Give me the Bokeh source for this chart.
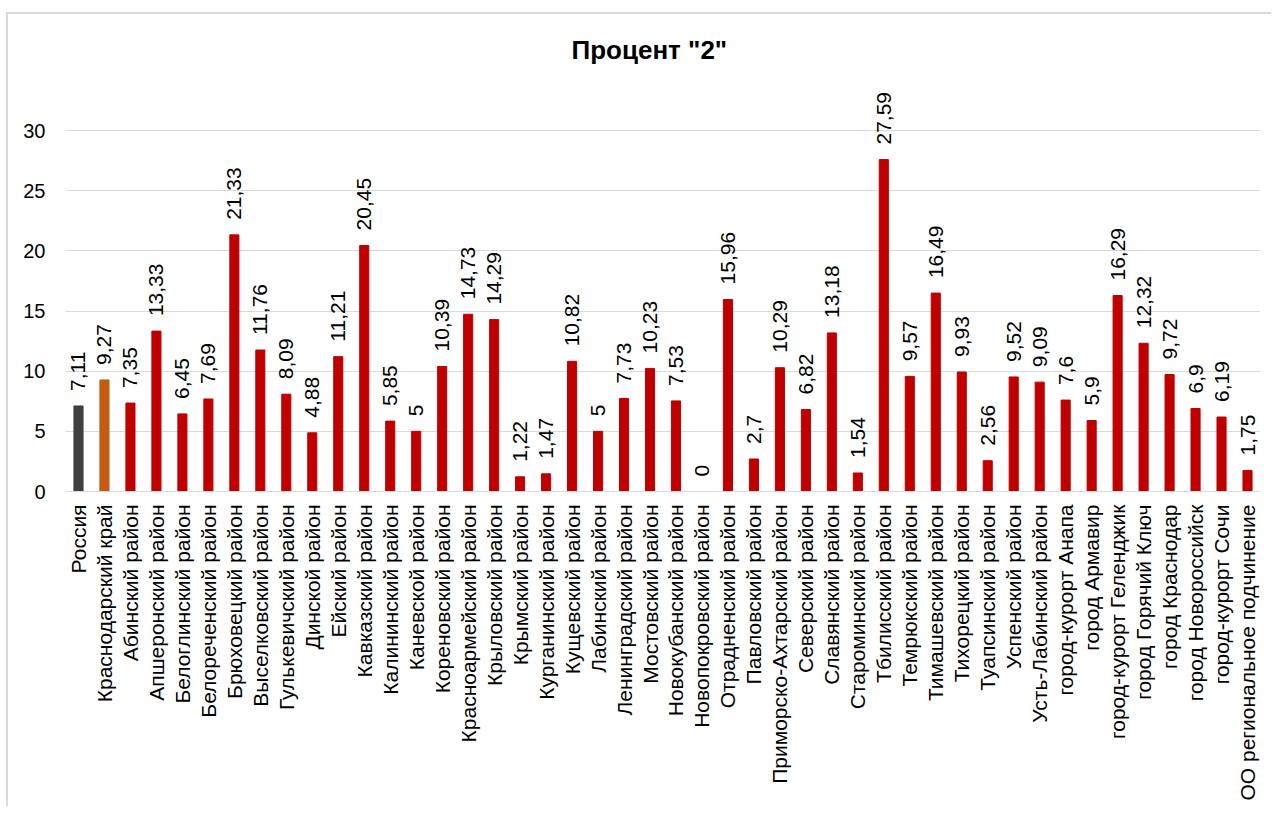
import math
from bokeh.plotting import figure
from bokeh.models import ColumnDataSource, FixedTicker, FactorRange, Range1d
from bokeh.core.properties import value
from bokeh.embed import file_html
from bokeh.resources import INLINE

categories = [
    "Россия", "Краснодарский край", "Абинский район", "Апшеронский район",
    "Белоглинский район", "Белореченский район", "Брюховецкий район",
    "Выселковский район", "Гулькевичский район", "Динской район", "Ейский район",
    "Кавказский район", "Калининский район", "Каневской район", "Кореновский район",
    "Красноармейский район", "Крыловский район", "Крымский район",
    "Курганинский район", "Кущевский район", "Лабинский район",
    "Ленинградский район", "Мостовский район", "Новокубанский район",
    "Новопокровский район", "Отрадненский район", "Павловский район",
    "Приморско-Ахтарский район", "Северский район", "Славянский район",
    "Староминский район", "Тбилисский район", "Темрюкский район",
    "Тимашевский район", "Тихорецкий район", "Туапсинский район",
    "Успенский район", "Усть-Лабинский район", "город-курорт Анапа",
    "город Армавир", "город-курорт Геленджик", "город Горячий Ключ",
    "город Краснодар", "город Новороссийск", "город-курорт Сочи",
    "ОО региональное подчинение",
]
values = [
    7.11, 9.27, 7.35, 13.33, 6.45, 7.69, 21.33, 11.76, 8.09, 4.88, 11.21,
    20.45, 5.85, 5, 10.39, 14.73, 14.29, 1.22, 1.47, 10.82, 5, 7.73, 10.23,
    7.53, 0, 15.96, 2.7, 10.29, 6.82, 13.18, 1.54, 27.59, 9.57, 16.49, 9.93,
    2.56, 9.52, 9.09, 7.6, 5.9, 16.29, 12.32, 9.72, 6.9, 6.19, 1.75,
]
y_ticks = [0, 5, 10, 15, 20, 25, 30]
title_text = 'Процент "2"'

russia_color = "#404040"
region_color = "#C55A11"
district_color = "#C00000"
colors = [russia_color, region_color] + [district_color] * (len(categories) - 2)


def fmt(v):
    s = ("%.2f" % v).rstrip("0").rstrip(".")
    return s.replace(".", ",")


labels = [fmt(v) for v in values]

source = ColumnDataSource(dict(cat=categories, val=values, color=colors, label=labels))

FONT = "Liberation Sans"

p = figure(
    x_range=FactorRange(*categories, range_padding=0),
    y_range=Range1d(0, 34.16),
    width=1271, height=806,
    output_backend="svg", toolbar_location=None,
    min_border_left=65, min_border_right=11,
    min_border_top=80, min_border_bottom=315,
)
p.outline_line_color = None
p.background_fill_color = None
p.border_fill_color = None
p.styles = {
    "background": (
        "linear-gradient(#D9D9D9, #D9D9D9) 6px 12px / 2px 100% no-repeat, "
        "linear-gradient(#D9D9D9, #D9D9D9) 6px 12px / 100% 2px no-repeat, "
        "#FFFFFF"
    )
}

p.vbar(x="cat", top="val", width=0.35, color="color", source=source)

p.text(
    x="cat", y="val", text="label", source=source,
    angle=math.pi / 2, text_align="left", text_baseline="middle",
    y_offset=-15, text_font=value(FONT), text_font_size="21px",
    text_color="#000000",
)

p.title.text = title_text
p.title.align = "left"
p.title.text_font = FONT
p.title.text_font_size = "26px"
p.title.text_font_style = "bold"
p.title.text_color = "#000000"
p.title.offset = 506
p.title.standoff = 31

p.xgrid.grid_line_color = None
p.ygrid.grid_line_color = "#D9D9D9"
p.ygrid.grid_line_width = 1
p.yaxis.ticker = FixedTicker(ticks=y_ticks)
p.yaxis.axis_line_color = None
p.yaxis.major_tick_line_color = None
p.yaxis.minor_tick_line_color = None
p.yaxis.major_tick_in = 0
p.yaxis.major_tick_out = 0
p.yaxis.major_label_standoff = 20
p.yaxis.major_label_text_font = FONT
p.yaxis.major_label_text_font_size = "20px"
p.yaxis.major_label_text_color = "#000000"

p.xaxis.axis_line_color = "#D9D9D9"
p.xaxis.major_tick_line_color = None
p.xaxis.minor_tick_line_color = None
p.xaxis.major_tick_in = 0
p.xaxis.major_tick_out = 0
p.xaxis.major_label_standoff = 13
p.xaxis.major_label_orientation = math.pi / 2
p.xaxis.major_label_text_font = FONT
p.xaxis.major_label_text_font_size = "21px"
p.xaxis.major_label_text_color = "#000000"

open("out.html", "w").write(file_html(p, INLINE))
